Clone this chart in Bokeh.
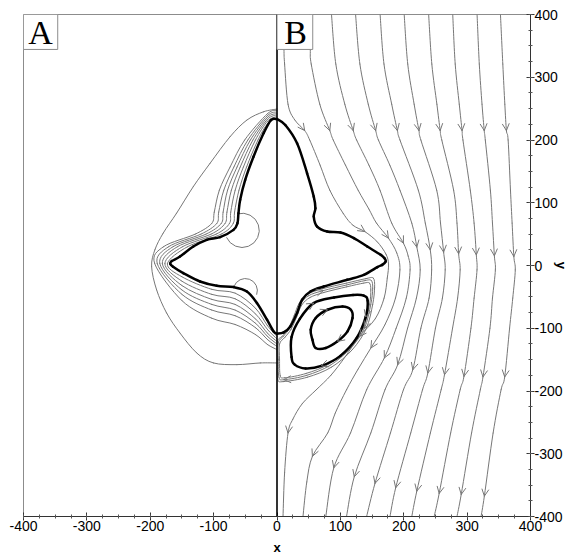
from bokeh.plotting import figure
from bokeh.models import (Range1d, Label, BoxAnnotation, Arrow, OpenHead, ColumnDataSource, Span, FixedTicker,
                          CustomJSTickFormatter)
from bokeh.embed import file_html
from bokeh.resources import INLINE

# ---------------- data ----------------
major_ticks = [-400, -300, -200, -100, 0, 100, 200, 300, 400]
minor_ticks = [-400, -375, -350, -325, -300, -275, -250, -225, -200, -175, -150, -125, -100, -75, -50, -25,
               0, 25, 50, 75, 100, 125, 150, 175, 200, 225, 250, 275, 300, 325, 350, 375, 400]

# panel A : thick interface (left half)
thick_left_x = [0, -9.5, -21.2, -37.1, -50.2, -58.1, -60.8, -62.4, -68.7, -89.8, -110.8, -132.1, -153.1, -166, -168.6,
                -164, -147.9, -121.5, -95, -68.7, -47.5, -31.7, -15.8, -5.4, 0]
thick_left_y = [233.4, 231.8, 210.7, 173.4, 136.5, 104.7, 83.4, 67.5, 56.8, 45.2, 40.9, 30.2, 14.3, 7, 3,
                -2, -12.1, -25.5, -32.3, -34.4, -41.4, -59.8, -86.4, -105, -108.7]

# panel A : thin contour lines (inner six, then outer)
c1_x = [0, -15, -30, -48, -60, -67, -69, -88, -141, -173, -150, -103, -66, -34, -15, 0]
c1_y = [235, 226, 200, 157, 120, 85, 67, 50, 30, 3, -18, -38, -44, -68, -96, -113]
c2_x = [0, -15, -34, -53, -66, -73, -75, -96, -149, -177, -150, -103, -66, -34, -15, 0]
c2_y = [237.5, 230, 200, 157, 120, 85, 67, 50, 30, 3, -25, -46, -53, -77, -102, -117]
c3_x = [0, -15, -38, -58, -72, -79, -82, -104, -157, -181, -150, -103, -66, -34, -15, 0]
c3_y = [240, 233, 200, 157, 120, 85, 67, 50, 30, 3, -32, -54, -62, -85, -108, -121]
c4_x = [0, -15, -42, -63, -78, -85, -88, -112, -164, -185, -150, -103, -66, -34, -15, 0]
c4_y = [242, 236, 200, 157, 120, 85, 67, 50, 30, 3, -39, -62, -71, -92, -113, -125]
c5_x = [0, -15, -46, -68, -84, -92, -95, -120, -171, -189, -150, -103, -66, -34, -15, 0]
c5_y = [244.5, 239, 200, 157, 120, 85, 67, 50, 30, 3, -46, -71, -80, -99, -118, -129]
c6_x = [0, -15, -51, -74, -91, -99, -103, -129, -179, -193, -150, -103, -66, -34, -15, 0]
c6_y = [247, 242, 200, 157, 120, 85, 67, 50, 30, 3, -56, -84, -94, -110, -126, -134]
c7_x = [0, -21.2, -47.5, -74, -105.6, -132.1, -158.4, -179.6, -192.7, -197.9, -190, -174.2, -153.1, -126.7,
        -100.4, -63.3, -26.4, 0]
c7_y = [249.3, 245, 231.8, 205.3, 162.9, 125.7, 83.4, 51.6, 25, -1.6, -38.7, -75.7, -107.6, -139.4,
        -155.3, -158, -155.3, -155.3]

# panel A : small circular contours (centre x, centre y, radius, start/end angle in degrees)
arc_cx = [-55, -50]
arc_cy = [56, -40]
arc_r = [27, 19]
arc_a0 = [-156, -20]
arc_a1 = [106, 161]

# panel B : thick interface (right half)
thick_right_x = [0, 13.1, 31.7, 47.5, 58, 60.6, 58, 63.3, 79.2, 100.2, 121.3, 142.5, 163.6, 170, 171.5, 166,
                 158.4, 137.1, 110.8, 73.8, 52.7, 39.6, 31.7, 21.1, 10.5, 0]
thick_right_y = [233.4, 223.9, 194.7, 147, 109.8, 91.3, 78, 62, 54.1, 52.5, 43.6, 30.2, 17, 11, 6.4, 1,
                 -2.5, -14.8, -22.8, -33.4, -41.4, -54.6, -75.7, -97.1, -106.6, -108.7]

# panel B : recirculation (thick closed loops)
loop_outer_x = [23, 23, 36, 58, 90, 120, 137, 143, 140, 126, 100, 70, 45, 28, 23]
loop_outer_y = [-146, -114, -85, -60, -51, -47, -48, -56, -82, -115, -144, -160, -164, -158, -146]
loop_inner_x = [55.9, 53.2, 61.1, 79.7, 103.4, 116.5, 119.2, 111.3, 95.5, 77, 61.1, 55.9]
loop_inner_y = [-118.2, -102.3, -83.7, -70.5, -65.3, -70.5, -83.7, -105, -120.9, -131.4, -131.4, -118.2]

# panel B : separatrix bundle (thin closed loops)
sep0_x = [0.5, 8, 18, 27, 35, 48, 72, 110, 140, 152, 154, 151, 141, 119, 86, 48, 10, 1, 0.5, 0.5]
sep0_y = [-121, -113, -100, -80, -60, -46, -37, -28, -21, -20, -35, -62, -100, -134, -162, -178, -185, -181, -150, -121]
sep1_x = [2, 10, 20, 29, 37, 50, 73, 110, 139, 149, 151, 148, 138, 116, 84, 47, 11, 3, 2, 2]
sep1_y = [-123, -113, -100, -80, -61, -48, -40, -31, -24, -24, -37, -62, -100, -132, -159, -175, -182, -178, -150, -123]
sep2_x = [4, 12, 22, 31, 39, 52, 74, 110, 137, 146, 148, 146, 136, 113, 82, 46, 12, 5, 4, 4]
sep2_y = [-125, -115, -102, -82, -63, -51, -43, -34, -28, -28, -39, -62, -100, -130, -157, -172, -179, -175, -150, -125]

# panel B : streamlines (top to bottom) and the vertex numbers that carry an arrow
s1_x = [10.5, 11, 12, 17.4, 28, 43.7, 51.6, 68, 83.3, 104.5, 120, 138.7, 158, 172, 176, 174, 169, 155, 130, 108, 85, 62, 40, 25, 17.4, 12, 9.5]
s1_y = [400, 345, 321, 257, 232, 215, 200, 160, 120, 83, 64, 54, 38, 18, 2, -20, -52, -85, -113, -145, -175, -198, -220, -245, -267, -330, -400]
s1_arrows = [5, 11, 18, 24]
s2_x = [51.6, 52.5, 54, 67.5, 83.3, 88.7, 108, 128, 145, 157, 175.8, 189, 194, 187, 170, 148.2, 128, 109.7, 92, 80, 55.9, 47, 41]
s2_y = [400, 345, 321, 257, 215, 200, 160, 120, 90, 67.5, 43.6, 20, -7, -52, -95, -131.4, -165, -198, -235, -267, -304, -345, -400]
s2_arrows = [4, 10, 15, 20]
s3_x = [86, 92.8, 107, 120.3, 125.6, 145, 162.5, 181, 199.5, 207, 210, 204, 188, 169.4, 141.4, 116, 89.6, 77]
s3_y = [400, 321, 257, 215, 200, 160, 120, 67.5, 35.6, 15, -7, -52, -100, -147.3, -198, -267, -322.4, -400]
s3_arrows = [3, 8, 13, 16]
s4_x = [124, 130.8, 144, 155.7, 160, 178, 194, 212.7, 220.6, 226, 220, 206, 190.5, 170.4, 148, 121.9, 109.7]
s4_y = [400, 321, 257, 215, 200, 160, 120, 67.5, 29.3, -7, -52, -100, -158, -198, -267, -336.7, -400]
s4_arrows = [3, 8, 12, 15]
s5_x = [162.7, 168.8, 181, 190, 194, 223, 234, 241.8, 244, 240, 227, 214.3, 199.5, 179, 154.6, 141.4]
s5_y = [400, 321, 257, 215, 200, 120, 67.5, 25, -7, -52, -100, -166, -198, -267, -347.3, -400]
s5_arrows = [3, 7, 11, 14]
s6_x = [200.7, 206.3, 216.4, 224, 227, 252, 258, 262.9, 265.4, 261, 250, 238, 229.6, 211, 187.3, 178.3]
s6_y = [400, 321, 257, 215, 200, 120, 67.5, 21.3, -7, -52, -100, -171.3, -198, -267, -354.2, -400]
s6_arrows = [3, 7, 11, 14]
s7_x = [239.3, 244.3, 252.3, 257.5, 260, 278.7, 284, 286.6, 289, 285, 277, 264.3, 259, 242, 220.6, 212.7]
s7_y = [400, 321, 257, 215, 200, 120, 67.5, 18.6, -7, -52, -100, -174, -198, -267, -359.6, -400]
s7_arrows = [3, 7, 11, 14]
s8_x = [277.3, 281.2, 287.6, 292, 293.4, 305, 311, 314.5, 315.6, 311, 306, 295, 289, 274, 255.9, 248]
s8_y = [400, 321, 257, 215, 200, 120, 67.5, 17, -7, -52, -100, -176.7, -198, -267, -363.3, -400]
s8_arrows = [3, 7, 11, 14]
s9_x = [315.7, 319.2, 323.5, 327, 328.7, 336.7, 340, 343, 344.6, 340, 336, 325, 320.8, 307, 290.7, 284]
s9_y = [400, 321, 257, 215, 200, 120, 67.5, 15.4, -7, -52, -100, -177.6, -198, -267, -364.8, -400]
s9_arrows = [3, 7, 11, 14]
s10_x = [352.6, 356.3, 359.5, 362, 364.7, 368.4, 371, 373.7, 376, 372, 367, 359.3, 353.6, 341, 327.2, 322]
s10_y = [400, 321, 257, 215, 200, 120, 67.5, 14.3, -7, -52, -100, -177.6, -198, -267, -367.5, -400]
s10_arrows = [3, 7, 11, 14]

loop_arrows_outer = [3, 8, 11]
loop_arrows_inner = [3, 8]
sep_arrows = [6, 12, 16]

panel_labels = ["A", "B"]

# ---------------- figure ----------------
GRAY = "#777777"
p = figure(frame_width=507, frame_height=502,
           x_range=Range1d(-400, 400), y_range=Range1d(-400, 400),
           y_axis_location="right", output_backend="svg", toolbar_location=None,
           min_border_left=23, min_border_top=14, min_border_right=0, min_border_bottom=0)
p.grid.visible = False
p.outline_line_color = "#8c8c8c"
p.outline_line_width = 1
p.background_fill_color = "white"
p.border_fill_color = "white"

for ax in (p.xaxis[0], p.yaxis[0]):
    ax.ticker = FixedTicker(ticks=major_ticks, minor_ticks=minor_ticks)
    ax.formatter = CustomJSTickFormatter(code="return String(tick);")
    ax.major_tick_in = 4
    ax.major_tick_out = 4
    ax.minor_tick_in = 2
    ax.minor_tick_out = 2
    ax.axis_line_color = "#333333"
    ax.major_tick_line_color = "#333333"
    ax.minor_tick_line_color = "#555555"
    ax.major_label_text_font = "Liberation Sans"
    ax.major_label_text_font_size = "14px"
    ax.major_label_text_color = "black"
    ax.major_label_standoff = 0
    ax.axis_label_text_font = "Liberation Sans"
    ax.axis_label_text_font_size = "13px"
    ax.axis_label_text_font_style = "bold"
    ax.axis_label_text_color = "black"
p.xaxis.axis_label = "x"
p.yaxis.axis_label = "y"
p.xaxis.axis_label_standoff = 6
p.yaxis.axis_label_standoff = -12


def smooth_curve(xs, ys, closed=False):
    """Catmull-Rom through the read vertices, drawn as cubic Bezier pieces."""
    pts = list(zip(xs, ys))
    if closed:
        pts = pts[:-1]
    m = len(pts)

    def g(i):
        if closed:
            return pts[i % m]
        return pts[min(max(i, 0), m - 1)]

    nseg = m if closed else m - 1
    out = dict(x0=[], y0=[], x1=[], y1=[], cx0=[], cy0=[], cx1=[], cy1=[])
    for i in range(nseg):
        p0, p1, p2, p3 = g(i - 1), g(i), g(i + 1), g(i + 2)
        out["x0"].append(p1[0]); out["y0"].append(p1[1])
        out["x1"].append(p2[0]); out["y1"].append(p2[1])
        out["cx0"].append(p1[0] + (p2[0] - p0[0]) / 6.0); out["cy0"].append(p1[1] + (p2[1] - p0[1]) / 6.0)
        out["cx1"].append(p2[0] - (p3[0] - p1[0]) / 6.0); out["cy1"].append(p2[1] - (p3[1] - p1[1]) / 6.0)
    return ColumnDataSource(out)


def draw(xs, ys, color, width, closed=False):
    p.bezier(x0="x0", y0="y0", x1="x1", y1="y1", cx0="cx0", cy0="cy0", cx1="cx1", cy1="cy1",
             source=smooth_curve(xs, ys, closed), line_color=color, line_width=width, line_cap="round")


# panel A contours
for cx, cy in [(c1_x, c1_y), (c2_x, c2_y), (c3_x, c3_y), (c4_x, c4_y), (c5_x, c5_y), (c6_x, c6_y), (c7_x, c7_y)]:
    draw(cx, cy, GRAY, 1)
p.arc(x=arc_cx, y=arc_cy, radius=arc_r, start_angle=arc_a0, end_angle=arc_a1, start_angle_units="deg",
      end_angle_units="deg", line_color=GRAY, line_width=1)

# panel B streamlines with arrow heads
streams = [(s1_x, s1_y, s1_arrows, False), (s2_x, s2_y, s2_arrows, False), (s3_x, s3_y, s3_arrows, False),
           (s4_x, s4_y, s4_arrows, False), (s5_x, s5_y, s5_arrows, False), (s6_x, s6_y, s6_arrows, False),
           (s7_x, s7_y, s7_arrows, False), (s8_x, s8_y, s8_arrows, False), (s9_x, s9_y, s9_arrows, False),
           (s10_x, s10_y, s10_arrows, False),
           (sep0_x, sep0_y, [], True), (sep1_x, sep1_y, sep_arrows, True), (sep2_x, sep2_y, [], True),
           (loop_outer_x, loop_outer_y, loop_arrows_outer, None), (loop_inner_x, loop_inner_y, loop_arrows_inner, None)]
ax0, ay0, ax1, ay1 = [], [], [], []
for sx, sy, arr, closed in streams:
    if closed is not None:
        draw(sx, sy, GRAY, 1, closed)
    for i in arr:
        dx = sx[i + 1] - sx[i - 1]
        dy = sy[i + 1] - sy[i - 1]
        ax1.append(sx[i]); ay1.append(sy[i])
        ax0.append(sx[i] - 0.05 * dx); ay0.append(sy[i] - 0.05 * dy)

draw(loop_outer_x, loop_outer_y, "black", 2.5, True)
draw(loop_inner_x, loop_inner_y, "black", 2.5, True)
draw(thick_left_x, thick_left_y, "black", 2.5)
draw(thick_right_x, thick_right_y, "black", 2.5)

arrow_src = ColumnDataSource(dict(x0=ax0, y0=ay0, x1=ax1, y1=ay1))
p.add_layout(Arrow(end=OpenHead(size=7, line_color=GRAY, line_width=1), source=arrow_src,
                   x_start="x0", y_start="y0", x_end="x1", y_end="y1", line_alpha=0))

# divider at x = 0
p.add_layout(Span(location=0, dimension="height", line_color="black", line_width=1.6))

# panel labels
for left, right in [(-400, -346), (0, 56.4)]:
    p.add_layout(BoxAnnotation(left=left, right=right, top=400, bottom=344.3, fill_color="white", fill_alpha=1,
                               line_color="#8c8c8c", line_alpha=1, line_width=1))
p.add_layout(Label(x=-373, y=372, text=panel_labels[0], text_align="center", text_baseline="middle",
                   text_font="Liberation Serif", text_font_size="34px", text_color="black"))
p.add_layout(Label(x=29.5, y=372, text=panel_labels[1], text_align="center", text_baseline="middle",
                   text_font="Liberation Serif", text_font_size="34px", text_color="black"))

open("out.html", "w").write(file_html(p, INLINE))
